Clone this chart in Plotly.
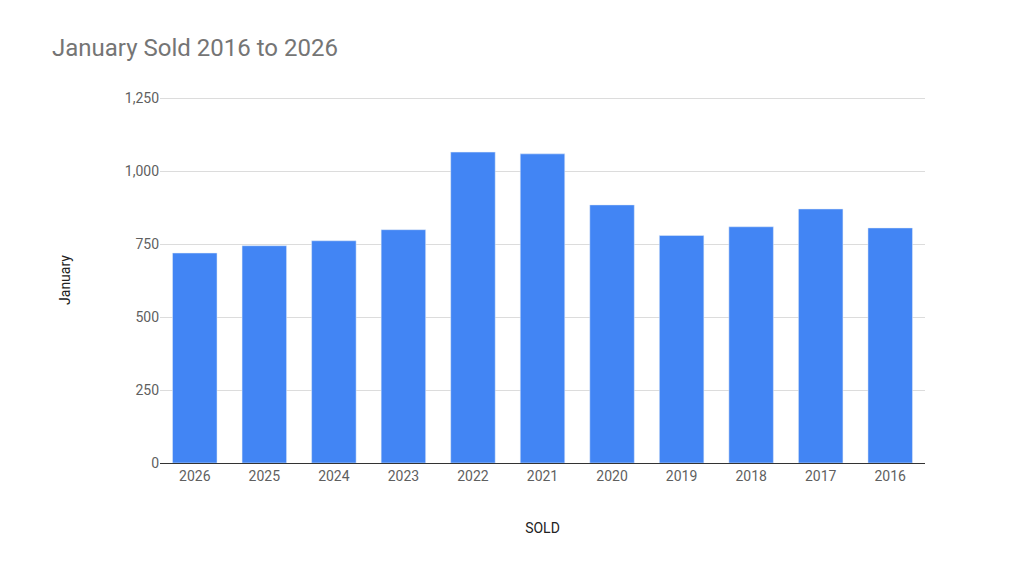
import plotly.graph_objects as go

years = ["2026", "2025", "2024", "2023", "2022", "2021", "2020", "2019", "2018", "2017", "2016"]
sold = [720, 745, 762, 800, 1066, 1060, 885, 780, 810, 871, 806]

fig = go.Figure(go.Bar(x=years, y=sold, marker_color="#4285f4", width=0.64))

fig.update_layout(
    width=1024, height=576,
    paper_bgcolor="white", plot_bgcolor="white",
    font=dict(family="Roboto", color="#444"),
    title=dict(text="January Sold 2016 to 2026", x=0.043, y=0.945, xanchor="left",
               font=dict(size=24, color="#757575")),
    margin=dict(l=152, r=107, t=89, b=121),
    showlegend=False,
)
fig.update_xaxes(title=dict(text="SOLD", font=dict(size=14, color="#222"), standoff=40),
                 tickfont=dict(size=14, color="#5f5f5f"), showline=True, linecolor="#333",
                 ticks="")
fig.update_yaxes(title=dict(text="January", font=dict(size=14, color="#222"), standoff=50),
                 range=[0, 1255], tickvals=[0, 250, 500, 750, 1000, 1250],
                 tickformat=",", tickfont=dict(size=14, color="#5f5f5f"),
                 gridcolor="#dcdcdc", zeroline=False)

fig.write_html("out.html")
